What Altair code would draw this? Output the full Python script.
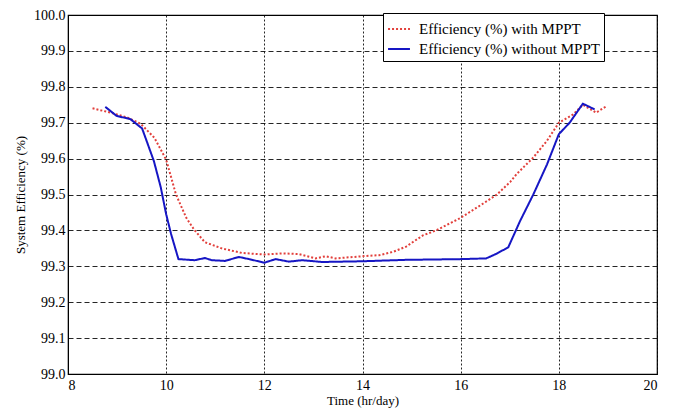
import altair as alt
import pandas as pd

series_names = ["Efficiency (%) with MPPT", "Efficiency (%) without MPPT"]

time_mppt = [8.50, 8.87, 9.20, 9.48, 9.76, 10.00, 10.20, 10.41, 10.58, 10.79, 11.13, 11.55,
             12.00, 12.36, 12.70, 13.04, 13.25, 13.45, 14.00, 14.34, 14.62, 14.89, 15.23,
             15.50, 16.00, 16.46, 16.74, 17.01, 17.14, 17.48, 17.76, 18.00, 18.29, 18.49,
             18.76, 18.97]
eff_mppt = [99.740, 99.728, 99.715, 99.697, 99.658, 99.597, 99.500, 99.435, 99.400, 99.367,
            99.350, 99.337, 99.333, 99.336, 99.334, 99.322, 99.328, 99.322, 99.328, 99.331,
            99.340, 99.355, 99.386, 99.400, 99.435, 99.475, 99.500, 99.535, 99.557, 99.603,
            99.650, 99.700, 99.723, 99.750, 99.728, 99.746]

time_no = [8.76, 8.99, 9.27, 9.51, 9.75, 9.89, 10.00, 10.10, 10.25, 10.58, 10.79, 10.93,
           11.20, 11.48, 11.69, 12.00, 12.23, 12.50, 12.77, 13.18, 14.00, 14.89, 16.00,
           16.52, 16.73, 16.97, 17.21, 17.48, 17.76, 18.00, 18.22, 18.49, 18.73]
eff_no = [99.744, 99.719, 99.710, 99.684, 99.593, 99.520, 99.445, 99.390, 99.320, 99.317,
          99.323, 99.317, 99.315, 99.326, 99.320, 99.310, 99.320, 99.313, 99.317, 99.312,
          99.314, 99.318, 99.320, 99.322, 99.335, 99.353, 99.426, 99.500, 99.584, 99.668,
          99.700, 99.753, 99.737]

x_ticks = [8, 10, 12, 14, 16, 18, 20]
y_ticks = [99.0, 99.1, 99.2, 99.3, 99.4, 99.5, 99.6, 99.7, 99.8, 99.9, 100.0]

df = pd.concat([
    pd.DataFrame({"time": time_mppt, "eff": eff_mppt, "series": series_names[0]}),
    pd.DataFrame({"time": time_no, "eff": eff_no, "series": series_names[1]}),
])

FONT = "Liberation Serif"

legend = alt.Legend(
    title=None, orient="none", legendX=315, legendY=-2,
    strokeColor="black", fillColor="white", padding=4,
    labelFont=FONT, labelFontSize=15, labelColor="black", labelLimit=400,
    symbolType="stroke", symbolSize=480, symbolStrokeWidth=2, rowPadding=0,
    labelOffset=8,
)

chart = alt.Chart(df).mark_line(strokeWidth=2).encode(
    x=alt.X("time:Q",
            scale=alt.Scale(domain=[8, 20], nice=False),
            axis=alt.Axis(values=x_ticks, title="Time (hr/day)", gridDash=[2, 2],
                          labelPadding=4, titlePadding=2)),
    y=alt.Y("eff:Q",
            scale=alt.Scale(domain=[99.0, 100.0], nice=False, zero=False),
            axis=alt.Axis(values=y_ticks, format=".1f", title="System Efficiency (%)",
                          gridDash=[5, 3], labelPadding=3, titlePadding=6)),
    color=alt.Color("series:N",
                    scale=alt.Scale(domain=series_names, range=["#e2403c", "#1616c4"]),
                    legend=legend),
    strokeDash=alt.StrokeDash("series:N",
                              scale=alt.Scale(domain=series_names, range=[[2, 2], [1, 0]]),
                              legend=legend),
).properties(
    width=589, height=359,
    background="white",
    autosize=alt.AutoSizeParams(type="none"),
    padding={"left": 68, "top": 15, "right": 18, "bottom": 34},
).configure_view(
    stroke="black", strokeWidth=1.2
).configure_axis(
    labelFont=FONT, titleFont=FONT, labelFontSize=14, titleFontSize=13,
    labelColor="black", titleColor="black", titleFontWeight="normal",
    gridColor="black", gridOpacity=0.85, gridWidth=1,
    domainColor="black", ticks=False,
)

chart.save("out.html", embed_options={"renderer": "svg", "actions": False})
